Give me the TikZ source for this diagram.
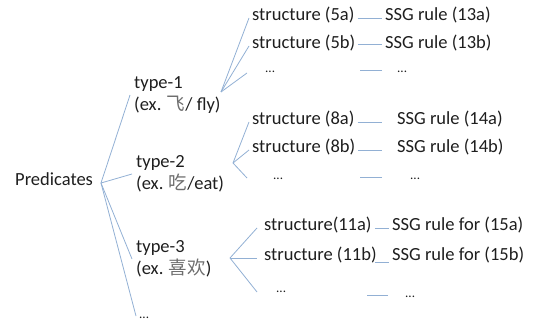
\documentclass[tikz,border=0pt]{standalone}
\usepackage{fontspec}
\setmainfont{Carlito}
\newfontfamily\cjk{Noto Sans CJK SC}
\definecolor{linec}{RGB}{146,176,212}
\definecolor{txt}{RGB}{30,30,30}
\definecolor{cjkc}{RGB}{110,110,110}
\begin{document}
\begin{tikzpicture}[x=1pt,y=-1pt,
  lbl/.style={anchor=west, inner sep=3pt, text=txt, font=\fontsize{18.5}{22}\selectfont, text height=0.75em, text depth=0.25em},
  dotsn/.style={anchor=west, inner sep=3pt, text=txt, font=\fontsize{13}{15}\selectfont, text height=0.75em, text depth=0.25em},
  typ/.style={anchor=west, align=left, inner sep=4pt, text=txt, font=\fontsize{18.5}{22}\selectfont},
  conn/.style={draw=linec, line width=0.8pt}]
\useasboundingbox (0,0) rectangle (533,323);
% root
\node[lbl] (pred) at (12,183) {Predicates};
\coordinate (p0) at (101,183);
\node[typ] (t1) at (130,95) {type-1\\(ex. {\cjk\color{cjkc}飞}/ fly)};
\node[typ] (t2) at (132,174) {type-2\\(ex. {\cjk\color{cjkc}吃}/eat)};
\node[typ] (t3) at (132,259) {type-3\\(ex. {\cjk\color{cjkc}喜欢})};
\node[dotsn] (d0) at (136,316) {...};
\draw[conn] (p0) -- (t1.west);
\draw[conn] (p0) -- (t2.west);
\draw[conn] (p0) -- (t3.west);
\draw[conn] (p0) -- (d0.west);
% type-1
\coordinate (r1) at (221,92);
\node[lbl] (s5a) at (249,18) {structure (5a)};
\node[lbl] (s5b) at (249,46) {structure (5b)};
\node[dotsn] (s5c) at (262,70) {...};
\draw[conn] (r1) -- (s5a.west);
\draw[conn] (r1) -- (s5b.west);
\draw[conn] (r1) -- ([xshift=-15pt,yshift=-3pt]s5c.west);
\node[lbl] (g13a) at (382,18) {SSG rule (13a)};
\node[lbl] (g13b) at (382,46) {SSG rule (13b)};
\node[dotsn] (g13c) at (394,70) {...};
\draw[conn] (s5a.east) -- (g13a.west);
\draw[conn] ([yshift=2pt]s5b.east) -- ([yshift=2pt]g13b.west);
\draw[conn] ([xshift=-12pt]g13c.west) -- ([xshift=-34pt]g13c.west);
% type-2
\coordinate (r2) at (233,163);
\node[lbl] (s8a) at (249,122) {structure (8a)};
\node[lbl] (s8b) at (249,150) {structure (8b)};
\node[dotsn] (s8c) at (270,177) {...};
\draw[conn] (r2) -- (s8a.west);
\draw[conn] (r2) -- (s8b.west);
\draw[conn] (r2) -- ([xshift=-23pt,yshift=-1pt]s8c.west);
\node[lbl] (g14a) at (394,122) {SSG rule (14a)};
\node[lbl] (g14b) at (394,150) {SSG rule (14b)};
\node[dotsn] (g14c) at (407,177) {...};
\draw[conn] (s8a.east) -- ([xshift=-12pt]g14a.west);
\draw[conn] (s8b.east) -- ([xshift=-12pt]g14b.west);
\draw[conn] ([xshift=-25pt]g14c.west) -- ([xshift=-47pt]g14c.west);
% type-3
\coordinate (r3) at (230,258);
\node[lbl] (s11a) at (261,228) {structure(11a)};
\node[lbl] (s11b) at (261,258) {structure (11b)};
\node[dotsn] (s11c) at (273,290) {...};
\draw[conn] (r3) -- ([xshift=-4pt]s11a.west);
\draw[conn] (r3) -- ([xshift=-4pt]s11b.west);
\draw[conn] (r3) -- ([xshift=-16pt,yshift=-2pt]s11c.west);
\node[lbl] (g15a) at (389,228) {SSG rule for (15a)};
\node[lbl] (g15b) at (389,258) {SSG rule for (15b)};
\node[dotsn] (g15c) at (402,295) {...};
\draw[conn] (s11a.east) -- (g15a.west);
\draw[conn] ([xshift=-5pt,yshift=-4pt]s11b.east) -- ([yshift=-4pt]g15b.west);
\draw[conn] ([xshift=-14pt]g15c.west) -- ([xshift=-35pt]g15c.west);
\end{tikzpicture}
\end{document}
